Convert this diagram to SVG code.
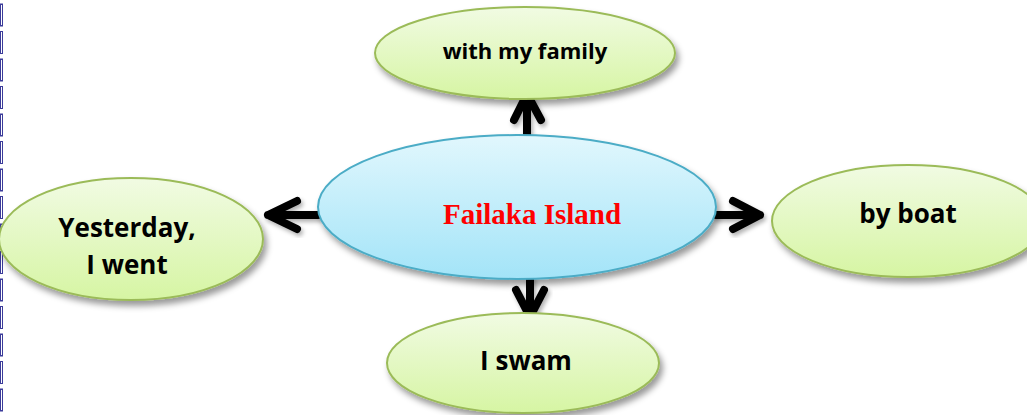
<svg xmlns="http://www.w3.org/2000/svg" width="1027" height="415" viewBox="0 0 1027 415">
<defs>
<linearGradient id="gGreen" x1="0" y1="0" x2="0" y2="1">
<stop offset="0" stop-color="#f1fbe3"/>
<stop offset="1" stop-color="#d6f5a3"/>
</linearGradient>
<linearGradient id="gBlue" x1="0" y1="0" x2="0" y2="1">
<stop offset="0" stop-color="#e1f7fd"/>
<stop offset="1" stop-color="#a3e4f8"/>
</linearGradient>
<filter id="shadow" x="-20%" y="-20%" width="140%" height="150%">
<feDropShadow dx="3" dy="5" stdDeviation="3" flood-color="#000" flood-opacity="0.4"/>
</filter>
<filter id="ashadow" x="-30%" y="-30%" width="160%" height="160%">
<feDropShadow dx="2" dy="3" stdDeviation="2" flood-color="#000" flood-opacity="0.3"/>
</filter>
</defs>
<style>
.leaf{fill:url(#gGreen);stroke:#9bbb59;stroke-width:2;filter:url(#shadow)}
.hub{fill:url(#gBlue);stroke:#4bacc6;stroke-width:2;filter:url(#shadow)}
.lbl{font-family:"Open Sans","Liberation Sans",sans-serif;font-weight:700;fill:#000;text-anchor:middle}
.hubtxt{font-family:"Liberation Serif","Times New Roman",serif;font-weight:700;fill:#ff0000;text-anchor:middle;font-size:29px}
.arr{fill:none;stroke:#000;stroke-width:8;stroke-linecap:round;stroke-linejoin:round;filter:url(#ashadow)}
.bd{fill:none;stroke:#3b3b9a;stroke-width:1}
</style>
<rect width="1027" height="415" fill="#fff"/>
<g id="border">
<rect class="bd" x="0.5" y="4" width="2" height="22"/>
<rect class="bd" x="0.5" y="31.5" width="2" height="22"/>
<rect class="bd" x="0.5" y="59" width="2" height="22"/>
<rect class="bd" x="0.5" y="86.5" width="2" height="22"/>
<rect class="bd" x="0.5" y="114" width="2" height="22"/>
<rect class="bd" x="0.5" y="141.5" width="2" height="22"/>
<rect class="bd" x="0.5" y="169" width="2" height="22"/>
<rect class="bd" x="0.5" y="196.5" width="2" height="22"/>
<rect class="bd" x="0.5" y="224" width="2" height="22"/>
<rect class="bd" x="0.5" y="251.5" width="2" height="22"/>
<rect class="bd" x="0.5" y="279" width="2" height="22"/>
<rect class="bd" x="0.5" y="306.5" width="2" height="22"/>
<rect class="bd" x="0.5" y="334" width="2" height="22"/>
<rect class="bd" x="0.5" y="361.5" width="2" height="22"/>
<rect class="bd" x="0.5" y="389" width="2" height="22"/>
</g>
<g id="connectors">
<path class="arr" d="M527 140 V94 M514 120 L527 94 L541 120"/>
<path class="arr" d="M318 215 H268 M297 201 L268 215 L297 229"/>
<path class="arr" d="M716 215 H760 M733 201 L760 215 L733 229"/>
<path class="arr" d="M530 279 V317 M516 290 L530 317 L544 290"/>
</g>
<g id="node-family">
<ellipse class="leaf" cx="525" cy="53" rx="150" ry="46"/>
<text class="lbl" x="525" y="59" font-size="22">with my family</text>
</g>
<g id="node-yesterday">
<ellipse class="leaf" cx="131" cy="239" rx="132" ry="61"/>
<text class="lbl" x="127" y="237" font-size="26">Yesterday,</text>
<text class="lbl" x="127" y="274" font-size="26">I went</text>
</g>
<g id="node-hub">
<ellipse class="hub" cx="517" cy="207" rx="199" ry="72"/>
<text class="hubtxt" x="532" y="224">Failaka Island</text>
</g>
<g id="node-boat">
<ellipse class="leaf" cx="908" cy="221" rx="136" ry="56"/>
<text class="lbl" x="908" y="223" font-size="26">by boat</text>
</g>
<g id="node-swam">
<ellipse class="leaf" cx="523" cy="363" rx="136" ry="50"/>
<text class="lbl" x="526" y="370" font-size="26">I swam</text>
</g>
</svg>
